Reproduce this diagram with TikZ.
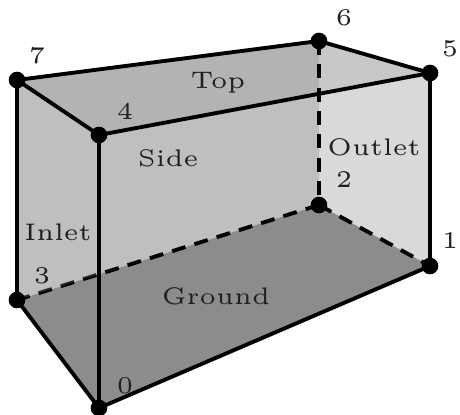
\documentclass[tikz,border=0pt]{standalone}
\usepackage{fontspec}
\setmainfont{lmroman5-regular.otf}
\usetikzlibrary{calc}
\definecolor{cOutlet}{HTML}{D9D9D9}
\definecolor{cSide}{HTML}{BFBFBF}
\definecolor{cGround}{HTML}{8C8C8C}
\definecolor{cTopL}{HTML}{B3B3B3}
\definecolor{cTopR}{HTML}{C8C8C8}
\tikzset{
  vertexdot/.style={circle,fill=black,inner sep=0pt,minimum size=12.5pt},
  edgeline/.style={line width=2.9pt,black},
  hiddenline/.style={line width=2.9pt,black,dash pattern=on 10.5pt off 7pt},
  lbl/.style={inner sep=0pt,font=\fontsize{18pt}{22pt}\selectfont,text=black!88}
}
\begin{document}
\begin{tikzpicture}[x=0.75pt,y=-0.75pt]
\useasboundingbox (0,0) rectangle (460,414);
\coordinate (p0) at (99,408);
\coordinate (p1) at (430,266);
\coordinate (p2) at (319,205);
\coordinate (p3) at (17,300);
\coordinate (p4) at (99,135);
\coordinate (p5) at (430,73);
\coordinate (p6) at (319,41);
\coordinate (p7) at (17,80);
\coordinate (x32) at ($(p3)!0.2715!(p2)$);
\coordinate (x45) at ($(p4)!0.665!(p5)$);
% faces
\fill[cOutlet] (p2)--(p1)--(p5)--(p6)--cycle;
\fill[cSide] (p3)--(p2)--(p6)--(p7)--cycle;
\fill[cGround] (p0)--(p1)--(p2)--(p3)--cycle;
\fill[cTopL] (p7)--(p6)--(x45)--(p4)--cycle;
\fill[cTopR] (p6)--(p5)--(x45)--cycle;
% hidden edges
\draw[hiddenline] (p6)--(p2);
\draw[hiddenline] (p2)--(p1);
\draw[hiddenline] (p2)--(p3);
\fill[cSide,opacity=.2] (p3)--(x32)--(p4)--(p7)--cycle;
% visible edges
\draw[edgeline] (p7)--(p6);
\draw[edgeline] (p6)--(p5);
\draw[edgeline] (p5)--(p4);
\draw[edgeline] (p4)--(p7);
\draw[edgeline] (p7)--(p3);
\draw[edgeline] (p3)--(p0);
\draw[edgeline] (p0)--(p1);
\draw[edgeline] (p1)--(p5);
\draw[edgeline] (p0)--(p4);
% vertices
\foreach \i in {0,...,7} \node[vertexdot] (v\i) at (p\i) {};
% labels
\node[lbl] (n0) at (125,386) {0};
\node[lbl] (n1) at (450,241) {1};
\node[lbl] (n2) at (344,180) {2};
\node[lbl] (n3) at (42,276) {3};
\node[lbl] (n4) at (125,111) {4};
\node[lbl] (n5) at (450,49) {5};
\node[lbl] (n6) at (344,18) {6};
\node[lbl] (n7) at (37,56) {7};
\node[lbl] (top) at (218,83) {Top};
\node[lbl] (side) at (168,158) {Side};
\node[lbl] (outlet) at (374,147) {Outlet};
\node[lbl] (inlet) at (58,232) {Inlet};
\node[lbl] (ground) at (216,296) {Ground};
\end{tikzpicture}
\end{document}
